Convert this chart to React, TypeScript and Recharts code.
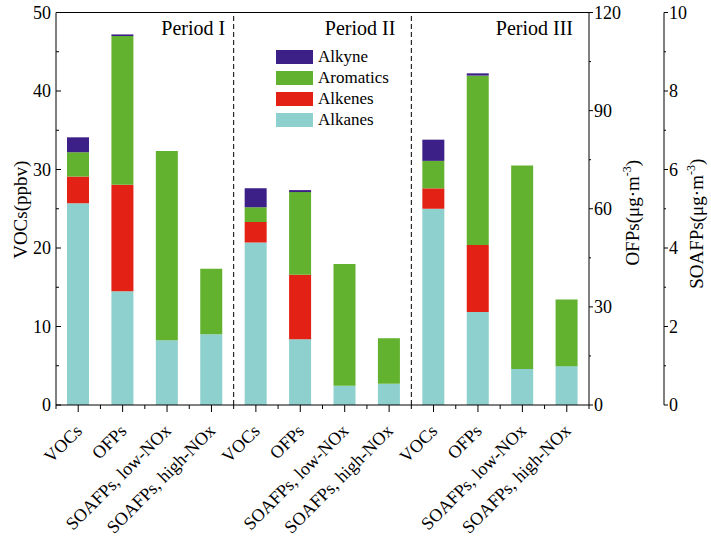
import React from "react";
import { ComposedChart, Bar, Line, XAxis, YAxis, ReferenceLine, Legend } from "recharts";

const periods = ["Period I", "Period II", "Period III"];
const categories = ["VOCs", "OFPs", "SOAFPs, low-NOx", "SOAFPs, high-NOx"];
// axis each category is read against
const categoryAxis = ["voc", "ofp", "soa", "soa"];

// per bar, period by period (VOCs in ppbv, OFPs and SOAFPs in µg·m-3)
const alkanes = [25.7, 34.8, 1.65, 1.8, 20.7, 20.1, 0.49, 0.54, 25.0, 28.4, 0.92, 0.99];
const alkenes = [3.4, 32.5, 0, 0, 2.6, 19.7, 0, 0, 2.6, 20.5, 0, 0];
const aromatics = [3.1, 45.5, 4.82, 1.67, 1.9, 25.3, 3.1, 1.16, 3.5, 51.8, 5.18, 1.7];
const alkyne = [1.9, 0.5, 0, 0, 2.4, 0.6, 0, 0, 2.7, 0.7, 0, 0];

const legendOrder = ["Alkyne", "Aromatics", "Alkenes", "Alkanes"];

const vocTicks = [0, 5, 10, 15, 20, 25, 30, 35, 40, 45, 50];
const ofpTicks = [0, 15, 30, 45, 60, 75, 90, 105, 120];
const soaTicks = [0, 1, 2, 3, 4, 5, 6, 7, 8, 9, 10];

const axisMax: Record<string, number> = { voc: 50, ofp: 120, soa: 10 };

const colors: Record<string, string> = {
  Alkanes: "#8dd0cd",
  Alkenes: "#e32114",
  Aromatics: "#63b22f",
  Alkyne: "#3c1f87",
};

const W = 711;
const H = 545;
const LEFT_W = 56;
const OFP_W = 75;
const SOA_W = 47;
const PLOT_W = W - LEFT_W - OFP_W - SOA_W;

// all bars share the left scale; convert the others so heights match their own axis
const data = periods.flatMap((p, pi) =>
  categories.map((c, ci) => {
    const i = pi * categories.length + ci;
    const ax = categoryAxis[ci];
    const k = axisMax.voc / axisMax[ax];
    const total = alkanes[i] + alkenes[i] + aromatics[i] + alkyne[i];
    return {
      key: `${pi}-${ci}`,
      label: c,
      alkanes: alkanes[i] * k,
      alkenes: alkenes[i] * k,
      aromatics: aromatics[i] * k,
      alkyne: alkyne[i] * k,
      // native totals, only used to hook the right-hand axes to data
      ofpTotal: ax === "ofp" ? total : null,
      soaTotal: ax === "soa" ? total : null,
    };
  })
);

const band = PLOT_W / data.length;
const font = "Liberation Serif";

function LeftTick({ x, y, payload }: any) {
  const major = payload.value % 10 === 0;
  return (
    <g>
      <line x1={x} x2={x + (major ? 5 : 3)} y1={y} y2={y} stroke="#000" />
      {major && (
        <text x={x - 5} y={y} dy={6} textAnchor="end" fontSize={18} fontFamily={font} fill="#000">
          {payload.value}
        </text>
      )}
    </g>
  );
}

function RightTick({ x, y, payload, step }: any) {
  const major = payload.value % step === 0;
  return (
    <g>
      <line x1={x} x2={x + (major ? 4 : 2)} y1={y} y2={y} stroke="#000" />
      {major && (
        <text x={x + 5} y={y} dy={6} textAnchor="start" fontSize={18} fontFamily={font} fill="#000">
          {payload.value}
        </text>
      )}
    </g>
  );
}

function BottomTick({ x, y, payload, index }: any) {
  const row = data.find((d) => d.key === payload.value);
  const tx = x + 5;
  const ty = y + 27;
  return (
    <g>
      <line x1={x} x2={x} y1={y} y2={y + 7} stroke="#000" />
      <line x1={x + band / 2} x2={x + band / 2} y1={y} y2={y + 4} stroke="#000" />
      {index === 0 && <line x1={x - band / 2} x2={x - band / 2} y1={y} y2={y + 4} stroke="#000" />}
      <text
        x={tx}
        y={ty}
        textAnchor="end"
        fontSize={18}
        fontFamily={font}
        fill="#000"
        transform={`rotate(-45 ${tx} ${ty})`}
      >
        {row ? row.label : ""}
      </text>
    </g>
  );
}

function PeriodLabel({ viewBox, text, gap }: any) {
  if (!viewBox) return null;
  return (
    <text x={viewBox.x - gap} y={viewBox.y + 22.5} textAnchor="end" fontSize={20} fontFamily={font} fill="#000">
      {text}
    </text>
  );
}

function AxisTitle({ viewBox, name, unit, dx, dy }: any) {
  if (!viewBox) return null;
  const x = viewBox.x + dx;
  const y = viewBox.y + viewBox.height / 2 + dy;
  return (
    <text
      x={x}
      y={y}
      textAnchor="middle"
      fontSize={19}
      fontFamily={font}
      fill="#000"
      transform={`rotate(-90 ${x} ${y})`}
    >
      {name}
      {unit && (
        <>
          {"(μg·m"}
          <tspan dy={-8} fontSize={12}>
            -3
          </tspan>
          <tspan dy={8}>)</tspan>
        </>
      )}
    </text>
  );
}

function LegendBox() {
  return (
    <div style={{ fontFamily: font }}>
      {legendOrder.map((name) => (
        <div key={name} style={{ display: "flex", alignItems: "center", height: 20.8 }}>
          <div style={{ width: 37, height: 14, background: colors[name], marginRight: 5 }} />
          <span style={{ fontSize: 17, color: "#000", lineHeight: "14px" }}>{name}</span>
        </div>
      ))}
    </div>
  );
}

export default function App() {
  return (
    <div style={{ position: "absolute", left: 0, top: 0, width: W, height: H, background: "#fff", fontFamily: font }}>
      <ComposedChart
        width={W}
        height={H}
        data={data}
        margin={{ top: 12.5, right: 0, bottom: 0, left: 0 }}
        barSize={22}
      >
        <XAxis
          dataKey="key"
          interval={0}
          height={140}
          tickLine={false}
          tickSize={0}
          tickMargin={0}
          axisLine={{ stroke: "#000" }}
          tick={<BottomTick />}
        />
        <YAxis
          yAxisId="left"
          domain={[0, 50]}
          ticks={vocTicks}
          width={LEFT_W}
          tickLine={false}
          tickSize={0}
          tickMargin={0}
          axisLine={{ stroke: "#000" }}
          tick={<LeftTick />}
          label={<AxisTitle name="VOCs(ppbv)" dx={27} dy={1} />}
        />
        <YAxis
          yAxisId="ofp"
          orientation="right"
          domain={[0, 120]}
          ticks={ofpTicks}
          width={OFP_W}
          tickLine={false}
          tickSize={0}
          tickMargin={0}
          axisLine={{ stroke: "#000" }}
          tick={<RightTick step={30} />}
          label={<AxisTitle name="OFPs" unit dx={50} dy={4} />}
        />
        <YAxis
          yAxisId="soa"
          orientation="right"
          domain={[0, 10]}
          ticks={soaTicks}
          width={SOA_W}
          tickLine={false}
          tickSize={0}
          tickMargin={0}
          axisLine={{ stroke: "#000" }}
          tick={<RightTick step={2} />}
          label={<AxisTitle name="SOAFPs" unit dx={39} dy={15} />}
        />
        <Legend
          layout="vertical"
          align="center"
          verticalAlign="middle"
          content={<LegendBox />}
          wrapperStyle={{ left: 276, top: 47, width: 140 }}
        />
        <Bar yAxisId="left" dataKey="alkanes" name="Alkanes" stackId="s" fill={colors.Alkanes} isAnimationActive={false} />
        <Bar yAxisId="left" dataKey="alkenes" name="Alkenes" stackId="s" fill={colors.Alkenes} isAnimationActive={false} />
        <Bar yAxisId="left" dataKey="aromatics" name="Aromatics" stackId="s" fill={colors.Aromatics} isAnimationActive={false} />
        <Bar yAxisId="left" dataKey="alkyne" name="Alkyne" stackId="s" fill={colors.Alkyne} isAnimationActive={false} />
        <Line
          yAxisId="ofp"
          dataKey="ofpTotal"
          stroke="none"
          dot={false}
          activeDot={false}
          legendType="none"
          isAnimationActive={false}
        />
        <Line
          yAxisId="soa"
          dataKey="soaTotal"
          stroke="none"
          dot={false}
          activeDot={false}
          legendType="none"
          isAnimationActive={false}
        />
        <ReferenceLine yAxisId="left" y={50} stroke="#000" />
        <ReferenceLine
          yAxisId="left"
          x="0-3"
          position="end"
          stroke="#000"
          strokeDasharray="5 3"
          label={<PeriodLabel text="Period I" gap={8.5} />}
        />
        <ReferenceLine
          yAxisId="left"
          x="1-3"
          position="end"
          stroke="#000"
          strokeDasharray="5 3"
          label={<PeriodLabel text="Period II" gap={16} />}
        />
        <ReferenceLine
          yAxisId="left"
          x="2-3"
          position="end"
          strokeOpacity={0}
          label={<PeriodLabel text="Period III" gap={16} />}
        />
      </ComposedChart>
    </div>
  );
}
